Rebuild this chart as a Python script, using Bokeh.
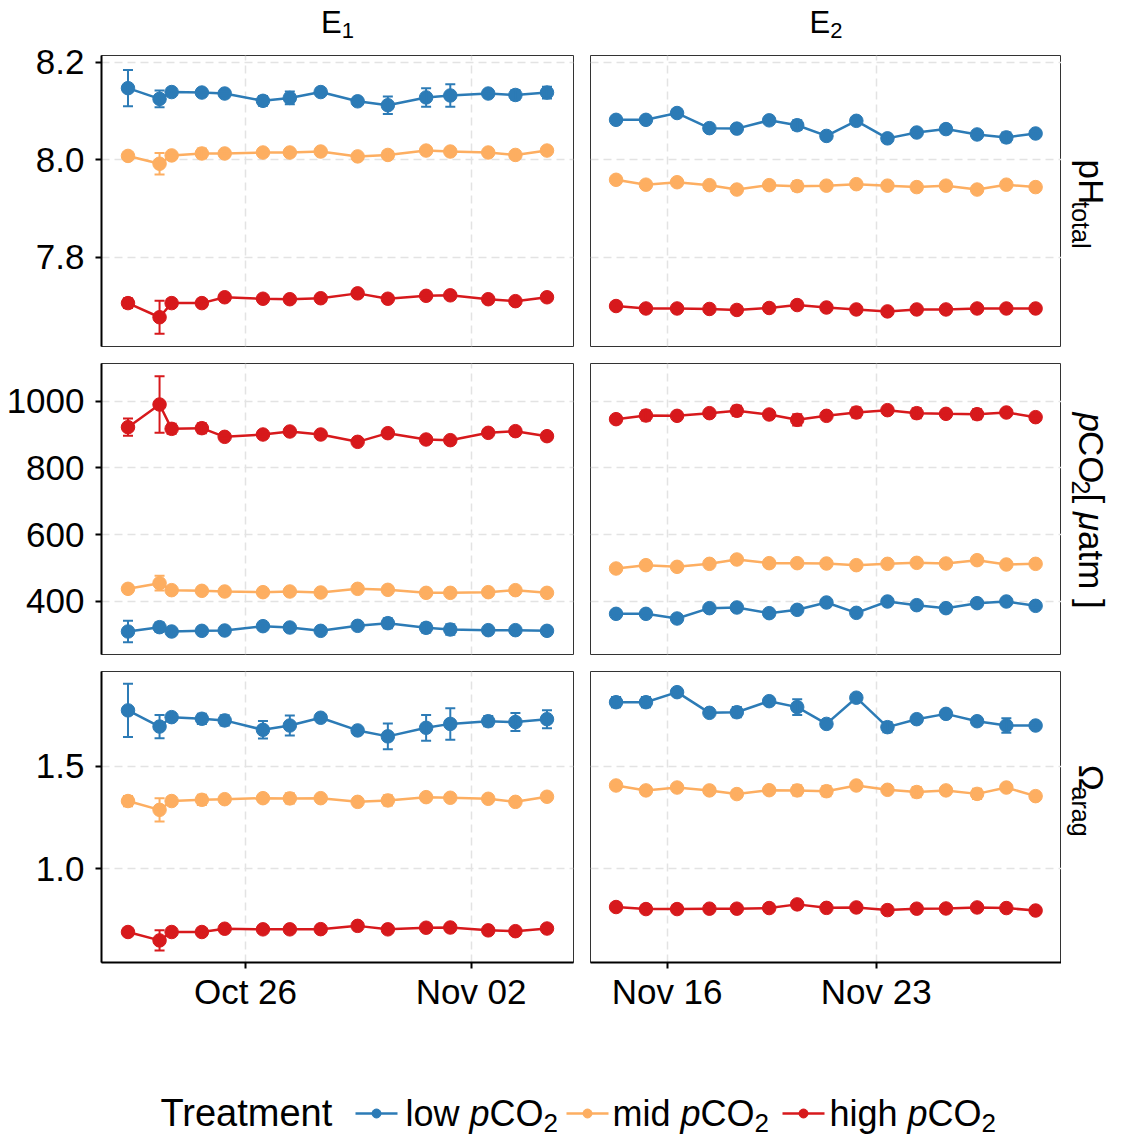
import math
import pandas as pd
from bokeh.plotting import figure
from bokeh.layouts import column, row
from bokeh.models import (ColumnDataSource, Range1d, LinearAxis, DatetimeAxis, FixedTicker,
                          NumeralTickFormatter, DatetimeTickFormatter, Grid, Whisker, TeeHead)
from bokeh.core.properties import value
from bokeh.embed import file_html
from bokeh.resources import INLINE

FONT = "Liberation Sans"

# ---------------- data ----------------
DATES_E1 = ["2017-10-22 08:30", "2017-10-23 08:00", "2017-10-23 17:00", "2017-10-24 15:30",
            "2017-10-25 08:30", "2017-10-26 13:00", "2017-10-27 09:00", "2017-10-28 08:00",
            "2017-10-29 11:30", "2017-10-30 10:00", "2017-10-31 14:30", "2017-11-01 08:30",
            "2017-11-02 12:45", "2017-11-03 09:00", "2017-11-04 08:30"]
DATES_E2 = ["2017-11-14 07:00", "2017-11-15 07:00", "2017-11-16 08:00", "2017-11-17 10:00",
            "2017-11-18 08:00", "2017-11-19 10:00", "2017-11-20 08:30", "2017-11-21 08:00",
            "2017-11-22 08:00", "2017-11-23 09:00", "2017-11-24 08:30", "2017-11-25 08:00",
            "2017-11-26 09:00", "2017-11-27 08:30", "2017-11-28 08:00"]

TREATMENTS = ["low", "mid", "high"]
TREATMENT_LABELS = ["low", "mid", "high"]
COLORS = ["#2c7bb6", "#fdae61", "#d7191c"]

PH_E1_LOW = [8.147, 8.125, 8.139, 8.138, 8.136, 8.121, 8.127, 8.139, 8.120, 8.112, 8.128, 8.132, 8.136, 8.133, 8.138]
PH_E1_MID = [8.008, 7.992, 8.009, 8.013, 8.013, 8.015, 8.015, 8.017, 8.007, 8.010, 8.019, 8.017, 8.015, 8.010, 8.019]
PH_E1_HIGH = [7.706, 7.677, 7.706, 7.706, 7.718, 7.715, 7.714, 7.716, 7.726, 7.715, 7.721, 7.722, 7.714, 7.710, 7.718]
PH_E2_LOW = [8.082, 8.082, 8.096, 8.065, 8.064, 8.081, 8.071, 8.049, 8.080, 8.044, 8.056, 8.063, 8.052, 8.046, 8.054]
PH_E2_MID = [7.959, 7.949, 7.954, 7.948, 7.939, 7.948, 7.946, 7.947, 7.950, 7.947, 7.944, 7.947, 7.939, 7.949, 7.944]
PH_E2_HIGH = [7.700, 7.695, 7.695, 7.694, 7.692, 7.696, 7.702, 7.697, 7.693, 7.689, 7.693, 7.693, 7.695, 7.695, 7.695]

PH_E1_LOW_SD = [0.037, 0.017, 0.004, 0.004, 0.004, 0.010, 0.013, 0.004, 0.004, 0.018, 0.019, 0.023, 0.004, 0.010, 0.012]
PH_E1_MID_SD = [0.004, 0.022, 0.004, 0.010, 0.004, 0.004, 0.004, 0.004, 0.004, 0.008, 0.004, 0.004, 0.004, 0.004, 0.004]
PH_E1_HIGH_SD = [0.010, 0.034, 0.008, 0.004, 0.004, 0.004, 0.004, 0.004, 0.004, 0.004, 0.004, 0.004, 0.004, 0.004, 0.004]
PH_E2_LOW_SD = [0.004, 0.004, 0.004, 0.004, 0.004, 0.004, 0.010, 0.004, 0.004, 0.004, 0.004, 0.004, 0.004, 0.010, 0.004]
PH_E2_MID_SD = [0.004, 0.004, 0.004, 0.004, 0.004, 0.004, 0.010, 0.004, 0.004, 0.004, 0.004, 0.004, 0.004, 0.004, 0.004]
PH_E2_HIGH_SD = [0.004, 0.004, 0.004, 0.004, 0.004, 0.004, 0.004, 0.004, 0.004, 0.004, 0.004, 0.004, 0.004, 0.004, 0.004]

PCO2_E1_LOW = [309, 322, 309, 311, 312, 325, 321, 311, 326, 334, 320, 315, 313, 313, 311]
PCO2_E1_MID = [437, 454, 433, 431, 429, 427, 429, 426, 437, 434, 425, 425, 427, 433, 425]
PCO2_E1_HIGH = [922, 990, 917, 919, 893, 900, 909, 900, 878, 904, 885, 883, 905, 910, 895]
PCO2_E2_LOW = [362, 362, 348, 379, 381, 364, 374, 396, 365, 399, 388, 379, 394, 399, 386]
PCO2_E2_MID = [498, 508, 503, 512, 525, 514, 514, 513, 508, 512, 515, 513, 523, 510, 512]
PCO2_E2_HIGH = [946, 957, 956, 964, 971, 960, 944, 956, 966, 973, 964, 962, 961, 966, 952]

PCO2_E1_LOW_SD = [32, 14, 5, 5, 5, 8, 8, 5, 5, 15, 14, 16, 5, 5, 5]
PCO2_E1_MID_SD = [5, 22, 5, 5, 5, 5, 5, 5, 5, 5, 5, 5, 5, 5, 5]
PCO2_E1_HIGH_SD = [26, 85, 15, 15, 5, 5, 5, 5, 5, 5, 5, 5, 5, 12, 5]
PCO2_E2_LOW_SD = [5, 5, 5, 5, 5, 5, 5, 5, 5, 5, 5, 5, 5, 5, 5]
PCO2_E2_MID_SD = [5, 5, 5, 5, 5, 5, 5, 5, 5, 5, 5, 5, 5, 5, 5]
PCO2_E2_HIGH_SD = [5, 15, 5, 5, 15, 5, 17, 5, 15, 5, 15, 5, 15, 5, 5]

OMEGA_E1_LOW = [1.774, 1.695, 1.741, 1.733, 1.725, 1.679, 1.700, 1.738, 1.676, 1.647, 1.689, 1.708, 1.721, 1.717, 1.731]
OMEGA_E1_MID = [1.331, 1.288, 1.331, 1.337, 1.340, 1.345, 1.344, 1.345, 1.327, 1.334, 1.350, 1.347, 1.342, 1.327, 1.352]
OMEGA_E1_HIGH = [0.691, 0.650, 0.691, 0.691, 0.707, 0.704, 0.704, 0.705, 0.721, 0.704, 0.712, 0.713, 0.699, 0.695, 0.708]
OMEGA_E2_LOW = [1.814, 1.814, 1.863, 1.762, 1.765, 1.819, 1.790, 1.708, 1.836, 1.692, 1.731, 1.757, 1.721, 1.700, 1.700]
OMEGA_E2_MID = [1.407, 1.383, 1.397, 1.383, 1.365, 1.384, 1.383, 1.379, 1.407, 1.386, 1.375, 1.383, 1.366, 1.397, 1.355]
OMEGA_E2_HIGH = [0.813, 0.803, 0.803, 0.805, 0.805, 0.808, 0.826, 0.809, 0.811, 0.798, 0.805, 0.806, 0.811, 0.808, 0.796]

OMEGA_E1_LOW_SD = [0.13, 0.057, 0.010, 0.025, 0.025, 0.043, 0.049, 0.010, 0.010, 0.063, 0.063, 0.077, 0.025, 0.044, 0.044]
OMEGA_E1_MID_SD = [0.025, 0.057, 0.010, 0.025, 0.010, 0.010, 0.025, 0.010, 0.010, 0.025, 0.010, 0.010, 0.010, 0.010, 0.010]
OMEGA_E1_HIGH_SD = [0.010, 0.049, 0.010, 0.010, 0.010, 0.010, 0.010, 0.010, 0.010, 0.010, 0.010, 0.010, 0.010, 0.010, 0.010]
OMEGA_E2_LOW_SD = [0.025, 0.025, 0.010, 0.010, 0.025, 0.010, 0.038, 0.010, 0.010, 0.025, 0.010, 0.010, 0.010, 0.035, 0.010]
OMEGA_E2_MID_SD = [0.010, 0.010, 0.010, 0.010, 0.010, 0.010, 0.025, 0.025, 0.010, 0.010, 0.025, 0.010, 0.025, 0.010, 0.010]
OMEGA_E2_HIGH_SD = [0.010, 0.010, 0.010, 0.010, 0.010, 0.010, 0.010, 0.010, 0.010, 0.010, 0.010, 0.010, 0.010, 0.010, 0.010]

PH_TICKS = [7.8, 8.0, 8.2]
PCO2_TICKS = [400, 600, 800, 1000]
OMEGA_TICKS = [1.0, 1.5]
E1_TICKS = ["2017-10-26", "2017-11-02"]
E2_TICKS = ["2017-11-16", "2017-11-23"]
EXP_LABELS = [("E", "1"), ("E", "2")]

# ---------------- assembled tables ----------------
VALUES = {
    (0, 0): [(PH_E1_LOW, PH_E1_LOW_SD), (PH_E1_MID, PH_E1_MID_SD), (PH_E1_HIGH, PH_E1_HIGH_SD)],
    (0, 1): [(PH_E2_LOW, PH_E2_LOW_SD), (PH_E2_MID, PH_E2_MID_SD), (PH_E2_HIGH, PH_E2_HIGH_SD)],
    (1, 0): [(PCO2_E1_LOW, PCO2_E1_LOW_SD), (PCO2_E1_MID, PCO2_E1_MID_SD), (PCO2_E1_HIGH, PCO2_E1_HIGH_SD)],
    (1, 1): [(PCO2_E2_LOW, PCO2_E2_LOW_SD), (PCO2_E2_MID, PCO2_E2_MID_SD), (PCO2_E2_HIGH, PCO2_E2_HIGH_SD)],
    (2, 0): [(OMEGA_E1_LOW, OMEGA_E1_LOW_SD), (OMEGA_E1_MID, OMEGA_E1_MID_SD), (OMEGA_E1_HIGH, OMEGA_E1_HIGH_SD)],
    (2, 1): [(OMEGA_E2_LOW, OMEGA_E2_LOW_SD), (OMEGA_E2_MID, OMEGA_E2_MID_SD), (OMEGA_E2_HIGH, OMEGA_E2_HIGH_SD)],
}
DATES = [DATES_E1, DATES_E2]
X_TICKS = [E1_TICKS, E2_TICKS]
Y_TICKS = [PH_TICKS, PCO2_TICKS, OMEGA_TICKS]
Y_FMT = ["0.0", "0", "0.0"]
Y_LIMS = [(7.617, 8.214), (240, 1113), (0.542, 1.964)]
X_LIMS = [("2017-10-21 12:46", "2017-11-05 04:15"), ("2017-11-13 10:28", "2017-11-29 04:48")]


def ms(s):
    return pd.Timestamp(s).value / 1e6


# ---------------- layout geometry (pixels) ----------------
COL_W = [581, 480]
COL_BL = [101, 9]
COL_BR = [8, 0]
ROW_H = [312, 308, 359]
ROW_BT = [12, 8, 8]
ROW_BB = [9, 9, 60]
STRIP_W = 60
TOP_H = 43
TOTAL_W = sum(COL_W) + STRIP_W
LEG_H = 1140 - TOP_H - sum(ROW_H)
BASE_CORR = 0.36   # svg text baseline compensation (fraction of font size)

GRID_KW = dict(grid_line_color="#e3e3e3", grid_line_dash="8 5", grid_line_width=1.5)

AW = {' ': 278, '[': 278, ']': 278, '0': 556, '1': 556, '2': 556, 'C': 722, 'E': 667, 'H': 722,
      'O': 778, 'T': 611, 'a': 556, 'd': 556, 'e': 556, 'g': 556, 'h': 556, 'i': 222, 'l': 222,
      'm': 833, 'n': 556, 'o': 556, 'p': 556, 'r': 333, 't': 278, 'w': 722, 'μ': 576, 'Ω': 768}


def tw(s, size):
    return sum(AW.get(c, 556) for c in s) * size / 1000.0


def put_text(p, x, y, txt, size, style="normal", angle=0.0, color="black"):
    p.text(x=[x], y=[y], text=[txt], angle=angle, text_font=value(FONT),
           text_font_size=f"{size}px", text_font_style=style, text_align="left",
           text_baseline="alphabetic", text_color=color)


def hpieces(p, pieces, x0, y0):
    x = x0
    for t, s, st, sh in pieces:
        put_text(p, x, y0 - sh + BASE_CORR * s, t, s, st)
        x += tw(t, s)
    return x


def vpieces(p, pieces, xb, yc):
    total = sum(tw(t, s) for t, s, st, sh in pieces)
    y = yc + total / 2.0
    for t, s, st, sh in pieces:
        put_text(p, xb - sh + BASE_CORR * s, y, t, s, st, angle=-math.pi / 2)
        y -= tw(t, s)


def blank(w, h):
    f = figure(width=w, height=h, x_range=Range1d(0, w), y_range=Range1d(0, h),
               x_axis_location=None, y_axis_location=None, toolbar_location=None,
               output_backend="svg", min_border=0, min_border_left=0, min_border_right=0,
               min_border_top=0, min_border_bottom=0, outline_line_color=None,
               background_fill_color="white", border_fill_color="white")
    f.grid.visible = False
    return f


def panel(r, c):
    lo, hi = X_LIMS[c]
    p = figure(width=COL_W[c], height=ROW_H[r],
               x_range=Range1d(ms(lo), ms(hi)), y_range=Range1d(*Y_LIMS[r]),
               x_axis_location=None, y_axis_location=None, toolbar_location=None,
               output_backend="svg", min_border_left=COL_BL[c], min_border_right=COL_BR[c],
               min_border_top=ROW_BT[r], min_border_bottom=ROW_BB[r],
               outline_line_color="#333333", outline_line_width=1,
               background_fill_color="white", border_fill_color="white")
    p.center = [o for o in p.center if not isinstance(o, Grid)]
    xt = [ms(t) for t in X_TICKS[c]]
    p.add_layout(Grid(dimension=0, ticker=FixedTicker(ticks=xt), **GRID_KW))
    p.add_layout(Grid(dimension=1, ticker=FixedTicker(ticks=Y_TICKS[r]), **GRID_KW))
    axis_kw = dict(axis_line_width=2, axis_line_color="black", major_tick_line_color="black",
                   major_tick_line_width=2, major_tick_in=0, major_tick_out=6,
                   minor_tick_line_color=None, major_label_text_font=FONT,
                   major_label_text_font_size="35px", major_label_text_color="black")
    if c == 0:
        ax = LinearAxis(ticker=FixedTicker(ticks=Y_TICKS[r]),
                        formatter=NumeralTickFormatter(format=Y_FMT[r]),
                        major_label_standoff=11, **axis_kw)
        p.add_layout(ax, "left")
    if r == 2:
        fmt = "%b %d"
        dax = DatetimeAxis(ticker=FixedTicker(ticks=xt),
                           formatter=DatetimeTickFormatter(hours=fmt, days=fmt, months=fmt,
                                                           years=fmt, hourmin=fmt, minutes=fmt),
                           major_label_standoff=3, **axis_kw)
        p.add_layout(dax, "below")
    xs = [ms(d) for d in DATES[c]]
    for k, (vals, sds) in enumerate(VALUES[(r, c)]):
        col = COLORS[k]
        src = ColumnDataSource(dict(x=xs, y=vals,
                                    upper=[v + s for v, s in zip(vals, sds)],
                                    lower=[v - s for v, s in zip(vals, sds)]))
        p.line("x", "y", source=src, line_color=col, line_width=2.5)
        p.add_layout(Whisker(source=src, base="x", upper="upper", lower="lower",
                             line_color=col, line_width=2, level="glyph",
                             upper_head=TeeHead(size=10, line_color=col, line_width=2),
                             lower_head=TeeHead(size=10, line_color=col, line_width=2)))
        p.scatter("x", "y", source=src, marker="circle", size=13.5, fill_color=col,
                  line_color=col)
    return p


# top strip
top = blank(TOTAL_W, TOP_H)
col_centers = [COL_BL[0] + (COL_W[0] - COL_BL[0] - COL_BR[0]) / 2.0,
               COL_W[0] + COL_BL[1] + (COL_W[1] - COL_BL[1] - COL_BR[1]) / 2.0]
for c in range(2):
    main, sub = EXP_LABELS[c]
    pcs = [(main, 31, "normal", 0), (sub, 22, "normal", 5)]
    total = sum(tw(t, s) for t, s, _, _ in pcs)
    hpieces(top, pcs, col_centers[c] - total / 2.0, TOP_H - 33)

STRIP_LABELS = [
    [("pH", 35, "normal", 0), ("total", 25, "normal", 7)],
    [("p", 35, "italic", 0), ("CO", 35, "normal", 0), ("2", 25, "normal", 7),
     ("[ ", 35, "normal", 0), ("μ", 35, "italic", 0), ("atm ]", 35, "normal", 0)],
    [("Ω", 35, "normal", 0), ("arag", 25, "normal", 7)],
]

rows = [top]
for r in range(3):
    p1 = panel(r, 0)
    p2 = panel(r, 1)
    rs = blank(STRIP_W, ROW_H[r])
    yc = ROW_H[r] - ROW_BT[r] - (ROW_H[r] - ROW_BT[r] - ROW_BB[r]) / 2.0
    vpieces(rs, STRIP_LABELS[r], 17, yc)
    rows.append(row(p1, p2, rs))

# legend (data coords: x = pixel column, y = pixels above the bottom edge)
leg = blank(TOTAL_W, LEG_H)
base_y = 14
hpieces(leg, [("Treatment", 38, "normal", 0)], 160, base_y)
KEY_CENTERS = [376, 587, 803]
LABEL_X = [405, 612, 829]
for k in range(3):
    kc = KEY_CENTERS[k]
    leg.line(x=[kc - 21, kc + 21], y=[base_y + 13, base_y + 13], line_color=COLORS[k], line_width=2.5)
    leg.scatter(x=[kc], y=[base_y + 13], marker="circle", size=9, fill_color=COLORS[k],
                line_color=COLORS[k])
    hpieces(leg, [(TREATMENT_LABELS[k] + " ", 36, "normal", 0), ("p", 36, "italic", 0),
                  ("CO", 36, "normal", 0), ("2", 26, "normal", 6)], LABEL_X[k], base_y)
rows.append(leg)

layout = column(*rows)
open("out.html", "w").write(file_html(layout, INLINE))
